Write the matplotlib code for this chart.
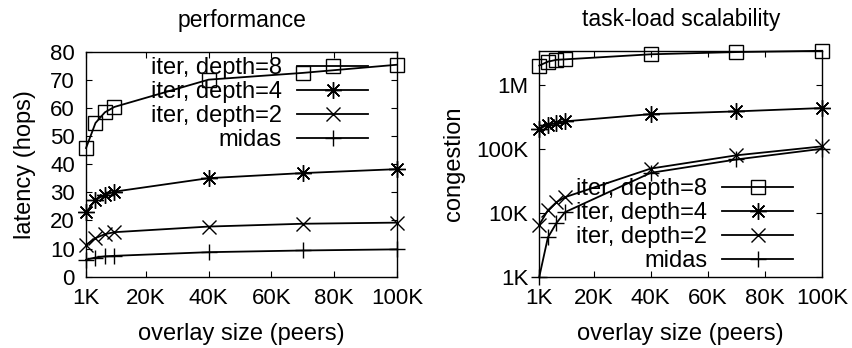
import numpy as np
import matplotlib
matplotlib.use('Agg')
import matplotlib.pyplot as plt
from matplotlib.ticker import FixedLocator, NullLocator

plt.rcParams['font.family'] = ['Liberation Sans', 'DejaVu Sans']
plt.rcParams['font.size'] = 15

sizes = [1000, 4000, 7000, 10000, 40000, 70000, 100000]
labels = ['iter, depth=8', 'iter, depth=4', 'iter, depth=2', 'midas']
markers = ['s', (8, 2, 0), 'x', '+']
msizes = [10, 12, 10, 11]

latency_d8 = [45.7, 54.6, 58.4, 60.3, 70.0, 72.4, 75.3]
latency_d4 = [22.8, 27.3, 29.0, 30.2, 35.0, 36.8, 38.2]
latency_d2 = [11.3, 13.7, 15.1, 15.8, 17.8, 18.8, 19.2]
latency_midas = [6.0, 6.8, 7.2, 7.4, 8.7, 9.3, 9.7]

cong_d8 = [2.0e6, 2.3e6, 2.46e6, 2.5e6, 3.0e6, 3.25e6, 3.4e6]
cong_d4 = [2.05e5, 2.37e5, 2.52e5, 2.68e5, 3.48e5, 3.84e5, 4.33e5]
cong_d2 = [6.5e3, 1.09e4, 1.46e4, 1.75e4, 4.9e4, 7.9e4, 1.09e5]
cong_midas = [1.0e3, 4.1e3, 6.9e3, 1.02e4, 4.2e4, 6.8e4, 1.0e5]

xticks = [1000, 20000, 40000, 60000, 80000, 100000]
xticklabels = ['1K', '20K', '40K', '60K', '80K', '100K']

fig = plt.figure(figsize=(8.52, 3.48), dpi=100)
ax1 = fig.add_axes([0.101, 0.205, 0.365, 0.647])
ax2 = fig.add_axes([0.633, 0.205, 0.332, 0.649])


def draw(ax, series):
    for vals, lab, m, ms in zip(series, labels, markers, msizes):
        ax.plot(sizes, vals, color='black', lw=1.3, marker=m, ms=ms,
                mfc='none', mec='black', mew=1.0, label=lab, clip_on=False)
    ax.set_xlim(1000, 100000)
    ax.set_xticks(xticks)
    ax.set_xticklabels(xticklabels)
    ax.tick_params(direction='in', top=True, right=True, length=4, pad=8,
                   labelsize=16)
    ax.set_xlabel('overlay size (peers)', fontsize=17, labelpad=10)
    for s in ax.spines.values():
        s.set_linewidth(1.0)


draw(ax1, [latency_d8, latency_d4, latency_d2, latency_midas])
ax1.set_ylim(0, 80)
ax1.set_yticks(range(0, 81, 10))
ax1.set_ylabel('latency (hops)', fontsize=17, labelpad=10)
ax1.set_title('performance', fontsize=16.5, pad=18)
ax1.legend(loc='upper right', frameon=False, markerfirst=False, fontsize=17,
           handlelength=3.0, borderaxespad=0.0, labelspacing=0.08,
           borderpad=0.0, bbox_to_anchor=(0.907, 0.975), handletextpad=0.65)

draw(ax2, [cong_d8, cong_d4, cong_d2, cong_midas])
ax2.set_yscale('log')
ax2.set_ylim(1000, 3.4e6)
ax2.yaxis.set_major_locator(FixedLocator([1e3, 1e4, 1e5, 1e6]))
ax2.yaxis.set_minor_locator(NullLocator())
ax2.set_yticklabels(['1K', '10K', '100K', '1M'])
ax2.set_ylabel('congestion', fontsize=17, labelpad=8)
ax2.set_title('task-load scalability', fontsize=16.5, pad=18)
ax2.legend(loc='lower right', frameon=False, markerfirst=False, fontsize=17,
           handlelength=3.0, borderaxespad=0.0, labelspacing=0.08,
           borderpad=0.0, bbox_to_anchor=(0.898, 0.02), handletextpad=0.65)

fig.savefig('out.png', dpi=100)
